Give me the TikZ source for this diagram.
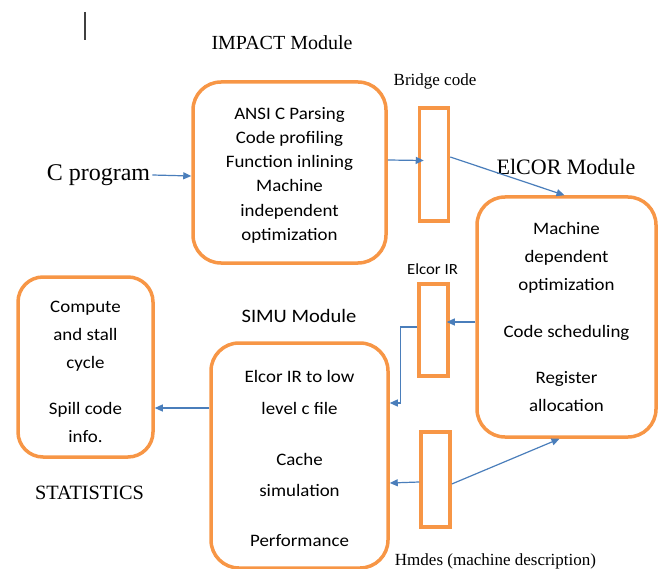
\documentclass[tikz,border=0pt]{standalone}
\usepackage{fontspec}
\setmainfont{Liberation Serif}
\newfontfamily\boxfont[FakeStretch=1.08]{Carlito}
\usetikzlibrary{positioning,arrows.meta}

\definecolor{boxorange}{RGB}{247,150,70}
\definecolor{arrowblue}{RGB}{74,126,187}

\tikzset{
	modbox/.style={draw=boxorange,line width=3.5pt,rounded corners=28pt,align=center,inner sep=0pt,
		font=\boxfont\fontsize{17.5}{28}\selectfont},
	irbox/.style={draw=boxorange,line width=3.5pt,minimum width=29pt,inner sep=0pt},
	flow/.style={draw=arrowblue,line width=1.2pt,-{Triangle[length=8pt,width=7pt]}},
	serlbl/.style={inner sep=0pt,font=\fontsize{17}{20}\selectfont},
	sanslbl/.style={inner sep=0pt,font=\boxfont\fontsize{17}{20}\selectfont}
}

\begin{document}
\begin{tikzpicture}[x=1pt,y=-1pt]
	\useasboundingbox (0,0) rectangle (660,569);
	% stray cursor mark
	\draw[line width=1.5pt,black!75] (85,12) -- (85,40);

	% modules
	\node(impact) [modbox,minimum width=193pt,minimum height=181pt,
		font=\boxfont\fontsize{17.5}{24.2}\selectfont] at (289.5,172.5)
		{\rule{0pt}{17.5pt}ANSI C Parsing\\Code profiling\\Function inlining\\Machine\\independent\\optimization};
	\node(elcor) [modbox,minimum width=179pt,minimum height=240pt] at (566.5,317)
		{Machine\\dependent\\optimization\\[19pt]Code scheduling\\[18pt]Register\\allocation};
	\node(simu) [modbox,minimum width=177pt,minimum height=225pt,
		font=\boxfont\fontsize{17.5}{31.5}\selectfont] at (299.5,455.5)
		{\rule{0pt}{18.5pt}Elcor IR to low\\level c file\\[19.5pt]Cache\\simulation\\[18.5pt]Performance};
	\node(stats) [modbox,minimum width=135pt,minimum height=180pt,rounded corners=25pt] at (85.5,367)
		{\rule{0pt}{21pt}Compute\\and stall\\cycle\\[18pt]Spill code\\info.};

	% intermediate files
	\node(bridge) [irbox,minimum height=113pt] at (434,164.5) {};
	\node(elcorir) [irbox,minimum height=92pt] at (433.5,330) {};
	\node(hmdes) [irbox,minimum height=95pt] at (435.5,479.5) {};

	% labels
	\node(cprog) [inner sep=0pt,font=\fontsize{24}{26}\selectfont] at (98.5,175) {C program};
	\node(impactlbl) [serlbl,font=\fontsize{20}{22}\selectfont] at (282,43) {IMPACT Module};
	\node(elcorlbl) [serlbl,font=\fontsize{22}{24}\selectfont] at (566,167) {ElCOR Module};
	\node(simulbl) [sanslbl,font=\boxfont\fontsize{19}{22}\selectfont] at (299,316) {SIMU Module};
	\node(statslbl) [serlbl,font=\fontsize{20.3}{22}\selectfont] at (89.5,493) {STATISTICS};
	\node(bridgelbl) [serlbl] at (435,81) {Bridge code};
	\node(elcorirlbl) [sanslbl,font=\boxfont\fontsize{15.5}{18}\selectfont] at (432.5,269) {Elcor IR};
	\node(hmdeslbl) [serlbl] at (495.5,561) {Hmdes (machine description)};

	% flow
	\draw[flow] ([xshift=2pt]cprog.east) -- ([yshift=-3.5pt]impact.west);
	\draw[flow] ([yshift=12.5pt]impact.east) -- ([xshift=6pt,yshift=4pt]bridge.west);
	\draw[flow] ([yshift=7.5pt]bridge.east) -- ([xshift=-2pt]elcor.north);
	\draw[flow] ([yshift=-5pt]elcor.west) -- ([xshift=-3pt,yshift=8pt]elcorir.east);
	\draw[flow] ([yshift=3pt]elcorir.west) -- ++(-17,0) |- ([yshift=52.5pt]simu.east);
	\draw[flow] ([yshift=-2.5pt]hmdes.west) -- ([yshift=-27.5pt]simu.east);
	\draw[flow] ([yshift=-4.5pt]hmdes.east) -- ([xshift=-7pt]elcor.south);
	\draw[flow] ([yshift=47.5pt]simu.west) -- ([yshift=-41pt]stats.east);
\end{tikzpicture}
\end{document}
